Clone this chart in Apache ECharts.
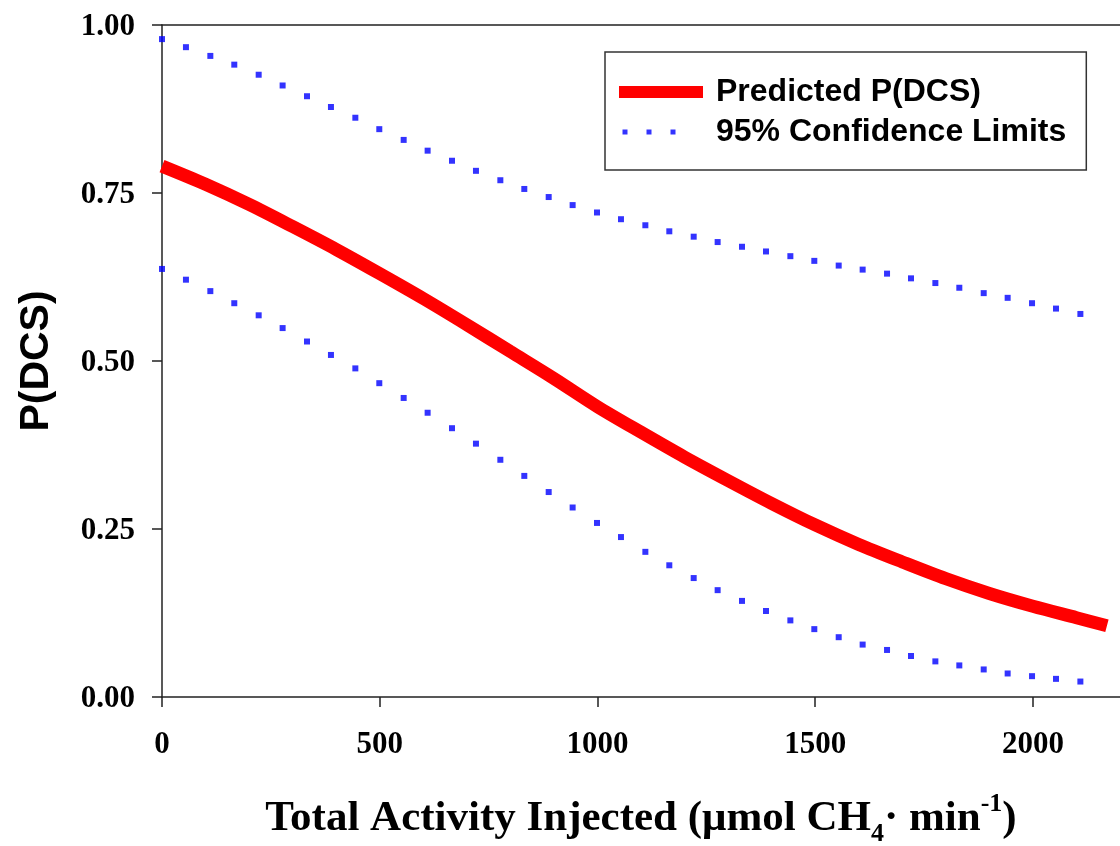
<!DOCTYPE html>
<html>
<head>
<meta charset="utf-8">
<script src="https://cdn.jsdelivr.net/npm/echarts@6/dist/echarts.min.js"></script>
<style>html,body{margin:0;padding:0;background:#fff}#chart{width:1120px;height:846px}</style>
</head>
<body>
<div id="chart"></div>
<script>
// Predicted P(DCS) curve
const xPred = [0,100,200,300,400,500,600,700,800,900,1000,1100,1200,1300,1400,1500,1600,1700,1800,1900,2000,2100,2170];
const yPred = [0.790,0.763,0.733,0.700,0.666,0.630,0.593,0.554,0.514,0.474,0.432,0.394,0.357,0.322,0.288,0.256,0.227,0.201,0.176,0.154,0.135,0.118,0.106];
// 95% confidence limits (dotted)
const xCI = [0,55,111,166,222,277,333,388,444,499,555,610,666,721,777,832,888,943,999,1054,1110,1165,1221,1276,1332,1387,1443,1498,1554,1609,1665,1720,1776,1831,1887,1942,1998,2053,2109];
const upperCI = [0.979,0.967,0.954,0.941,0.926,0.910,0.894,0.878,0.862,0.845,0.829,0.813,0.798,0.783,0.769,0.756,0.744,0.732,0.721,0.711,0.702,0.693,0.685,0.677,0.670,0.663,0.656,0.649,0.642,0.636,0.630,0.623,0.616,0.609,0.601,0.594,0.586,0.578,0.570];
const lowerCI = [0.637,0.621,0.604,0.586,0.568,0.549,0.529,0.509,0.489,0.467,0.445,0.423,0.400,0.377,0.353,0.329,0.305,0.282,0.259,0.238,0.216,0.196,0.177,0.159,0.143,0.128,0.114,0.101,0.089,0.078,0.070,0.061,0.053,0.047,0.041,0.035,0.031,0.027,0.023];
// Axis ticks
const xTicks = [0,500,1000,1500,2000];
const yTicks = [0,0.25,0.5,0.75,1.0];
const legendNames = ['Predicted P(DCS)','95% Confidence Limits'];

const axisColor = '#222';
const serif = '"Liberation Serif","Times New Roman",serif';
const sans = '"Liberation Sans",Arial,sans-serif';

const chart = echarts.init(document.getElementById('chart'), null, {renderer:'canvas'});
chart.setOption({
  animation: false,
  backgroundColor: '#fff',
  grid: {left:162, top:25, right:0, bottom:149, containLabel:false, outerBoundsMode:'none'},
  legend: {
    orient: 'vertical',
    left: 605, top: 52,
    padding: [24, 20, 22, 14],
    itemWidth: 84, itemHeight: 12, itemGap: 8,
    borderColor: '#333', borderWidth: 1.5,
    selectedMode: false,
    textStyle: {fontFamily: sans, fontWeight:'bold', fontSize:32, lineHeight:32, color:'#000', padding:[0,0,0,8]},
    data: [
      {name: legendNames[0], icon: 'rect'},
      {name: legendNames[1], icon: 'path://M0,0M84,12M3.5,3.5h5v5h-5zM27.5,3.5h5v5h-5zM51.5,3.5h5v5h-5z'}
    ]
  },
  xAxis: [{
    type:'value', min:0, max:2200, interval:500,
    position:'bottom',
    splitLine:{show:false},
    axisLine:{show:true, onZero:false, lineStyle:{color:axisColor, width:1.5}},
    axisTick:{show:true, length:10, lineStyle:{color:axisColor, width:1.5}, customValues:xTicks},
    axisLabel:{margin:32, fontFamily:serif, fontWeight:'bold', fontSize:31, color:'#000', customValues:xTicks,
      formatter: v => String(v)},
    name: '{a|Total Activity Injected (\u03bcmol CH}{s|4}{a|\u00b7 min}{p|-1}{a|)}',
    nameLocation:'middle', nameGap:94,
    nameTextStyle:{
      fontFamily:serif, fontWeight:'bold', fontSize:43, color:'#000',
      rich:{
        a:{fontFamily:serif, fontWeight:'bold', fontSize:43, lineHeight:56, color:'#000'},
        s:{fontFamily:serif, fontWeight:'bold', fontSize:26, lineHeight:25, verticalAlign:'bottom', color:'#000'},
        p:{fontFamily:serif, fontWeight:'bold', fontSize:26, lineHeight:35, verticalAlign:'top', color:'#000'}
      }
    }
  },{
    type:'value', min:0, max:2200, position:'top',
    splitLine:{show:false},
    axisLine:{show:true, onZero:false, lineStyle:{color:axisColor, width:1.5}},
    axisTick:{show:false}, axisLabel:{show:false}
  }],
  yAxis: {
    type:'value', min:0, max:1, interval:0.25,
    splitLine:{show:false},
    axisLine:{show:true, onZero:false, lineStyle:{color:axisColor, width:1.5}},
    axisTick:{show:true, length:10, lineStyle:{color:axisColor, width:1.5}, customValues:yTicks},
    axisLabel:{margin:27, fontFamily:serif, fontWeight:'bold', fontSize:31, color:'#000', customValues:yTicks,
      verticalAlign:'top', lineHeight:4, formatter: v => v.toFixed(2)},
    name:'P(DCS)', nameLocation:'middle', nameGap:105,
    nameTextStyle:{fontFamily:sans, fontWeight:'bold', fontSize:41, lineHeight:41, color:'#000'}
  },
  series: [
    {
      name: legendNames[1], type:'scatter', symbol:'rect', symbolSize:6,
      itemStyle:{color:'#0000FF'},
      data: xCI.map((x,i)=>[x, upperCI[i]]), z:3
    },
    {
      name: legendNames[1], type:'scatter', symbol:'rect', symbolSize:6,
      itemStyle:{color:'#0000FF'},
      data: xCI.map((x,i)=>[x, lowerCI[i]]), z:3
    },
    {
      name: legendNames[0], type:'line', smooth:0.3, showSymbol:false, symbol:'none',
      itemStyle:{color:'#FF0000'},
      lineStyle:{color:'#FF0000', width:13, cap:'butt'},
      data: xPred.map((x,i)=>[x, yPred[i]]), z:4
    }
  ]
});
</script>
</body>
</html>
